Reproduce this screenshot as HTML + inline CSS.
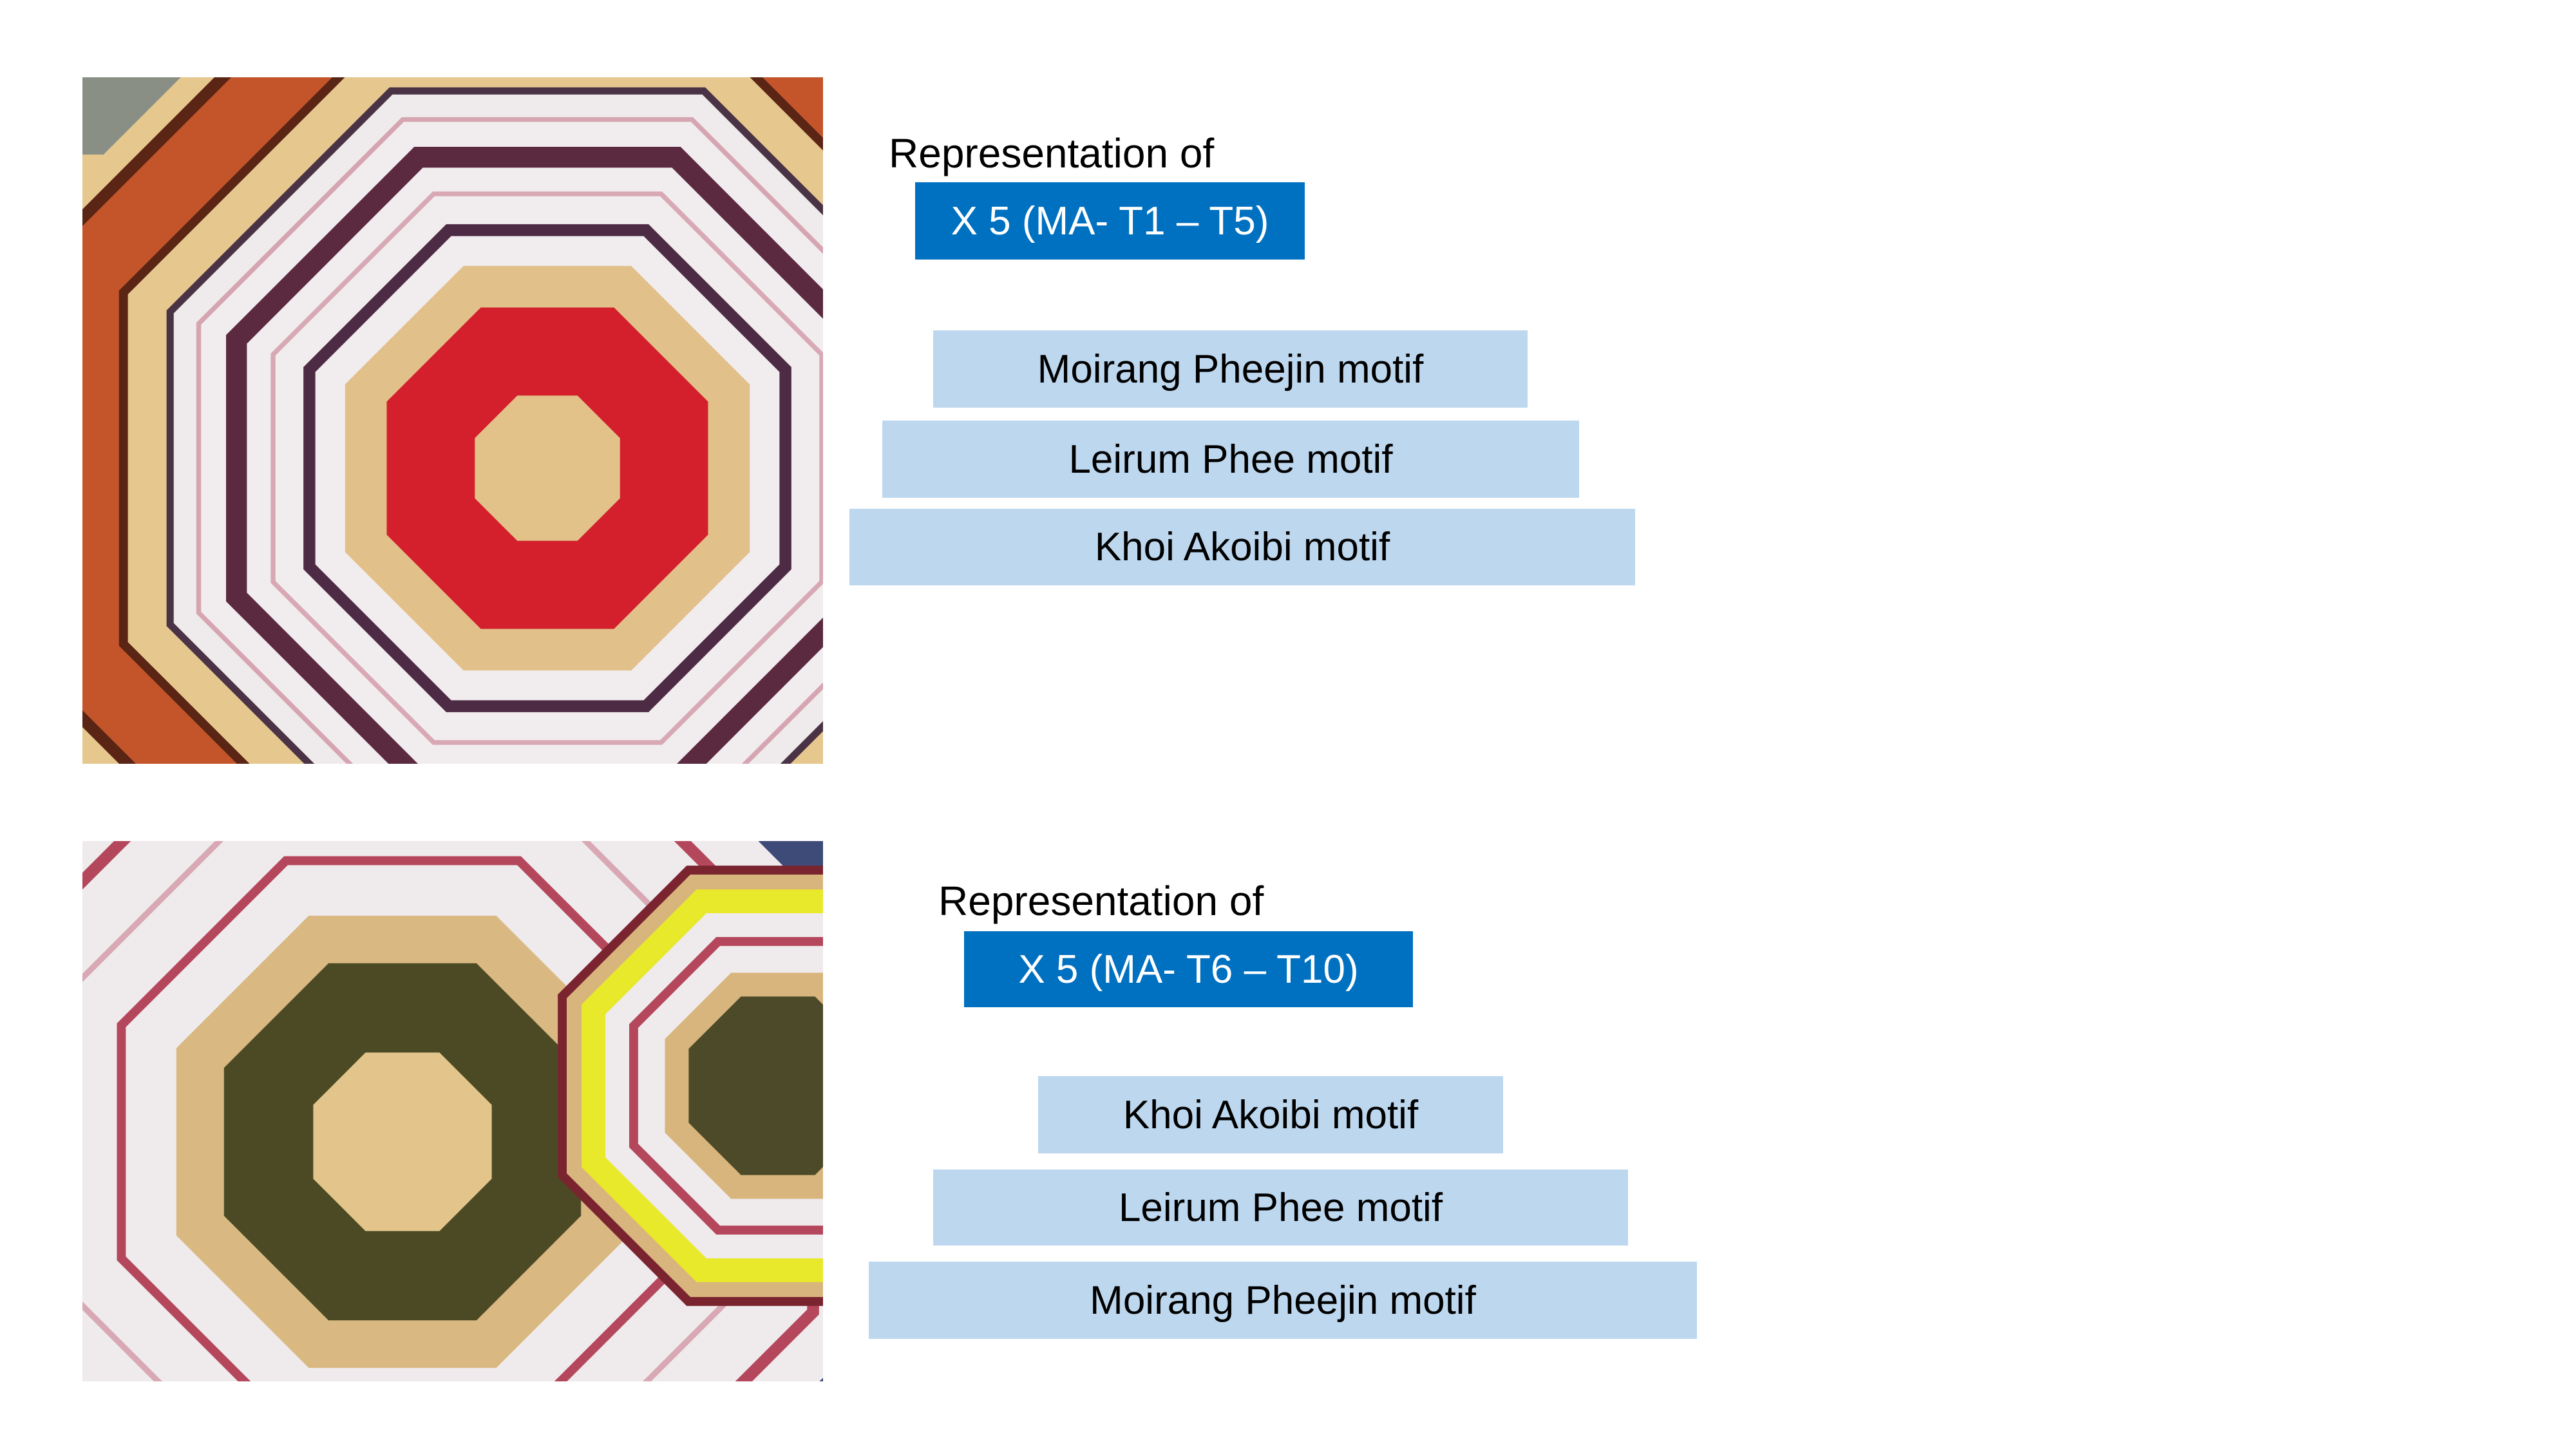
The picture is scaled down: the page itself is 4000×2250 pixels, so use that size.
<!DOCTYPE html>
<html><head><meta charset="utf-8"><style>
html,body{margin:0;padding:0;background:#fff;overflow:hidden;}
html{width:4000px;height:2250px;}
body{width:4000px;height:2250px;position:relative;overflow:hidden;font-family:"Liberation Sans",Carlito,sans-serif;}
.t{position:absolute;font-size:64px;color:#000;white-space:nowrap;line-height:1;}
.b{position:absolute;display:flex;align-items:center;justify-content:center;font-size:62px;white-space:nowrap;}
.d{background:#0070C0;color:#fff;}
.l{background:#BDD7EE;color:#000;}
svg{position:absolute;display:block;}
</style></head><body>
<svg width="0" height="0" style="left:0;top:0"><defs>
<polygon id="o" points="0.924,0.383 0.383,0.924 -0.383,0.924 -0.924,0.383 -0.924,-0.383 -0.383,-0.924 0.383,-0.924 0.924,-0.383"/>
</defs></svg>

<svg style="left:128px;top:120px" width="1150" height="1066" viewBox="0 0 1150 1066">
<rect width="1150" height="1066" fill="#e6c88f"/>
<rect width="250" height="120" fill="#8a8f86"/>
<g transform="translate(722,607)">
<use href="#o" transform="scale(900)" fill="#e6c88f"/>
<use href="#o" transform="scale(860)" fill="#5a2514"/>
<use href="#o" transform="scale(840)" fill="#c4552a"/>
<use href="#o" transform="scale(720)" fill="#5a2514"/>
<use href="#o" transform="scale(705)" fill="#e6c88f"/>
<use href="#o" transform="scale(640)" fill="#4a3345"/>
<use href="#o" transform="scale(628)" fill="#efeaec"/>
<use href="#o" transform="scale(590)" fill="#d6a5b2"/>
<use href="#o" transform="scale(582)" fill="#f1edef"/>
<use href="#o" transform="scale(540)" fill="#5b2a40"/>
<use href="#o" transform="scale(505)" fill="#f1edef"/>
<use href="#o" transform="scale(465)" fill="#d8a8b4"/>
<use href="#o" transform="scale(457)" fill="#f1edef"/>
<use href="#o" transform="scale(410)" fill="#4e2b44"/>
<use href="#o" transform="scale(390)" fill="#f1edef"/>
<use href="#o" transform="scale(340)" fill="#e2c08a"/>
<use href="#o" transform="scale(270)" fill="#d3202c"/>
<use href="#o" transform="scale(122)" fill="#e3c289"/>
</g>
</svg>

<svg style="left:128px;top:1306px" width="1150" height="839" viewBox="0 0 1150 839">
<rect width="1150" height="839" fill="#dcdde0"/>
<g transform="translate(497,467)">
<use href="#o" transform="scale(900)" fill="#d9b981"/>
<use href="#o" transform="scale(860)" fill="#3e4a78"/>
<use href="#o" transform="scale(780)" fill="#efeaec"/>
<use href="#o" transform="scale(700)" fill="#b4475c"/>
<use href="#o" transform="scale(680)" fill="#efeaec"/>
<use href="#o" transform="scale(580)" fill="#d8a8b4"/>
<use href="#o" transform="scale(570)" fill="#efeaec"/>
<use href="#o" transform="scale(480)" fill="#b4475c"/>
<use href="#o" transform="scale(465)" fill="#efeaec"/>
<use href="#o" transform="scale(380)" fill="#d9b981"/>
<use href="#o" transform="scale(300)" fill="#4c4a25"/>
<use href="#o" transform="scale(150)" fill="#e3c58c"/>
</g>
<g transform="translate(1080,380)">
<use href="#o" transform="scale(370)" fill="#7a2430"/>
<use href="#o" transform="scale(355)" fill="#d8b57c"/>
<use href="#o" transform="scale(330)" fill="#e7e92a"/>
<use href="#o" transform="scale(290)" fill="#efeaec"/>
<use href="#o" transform="scale(250)" fill="#b4475c"/>
<use href="#o" transform="scale(235)" fill="#efeaec"/>
<use href="#o" transform="scale(190)" fill="#d8b57c"/>
<use href="#o" transform="scale(150)" fill="#4d4a2a"/>
</g>
</svg>

<div class="t" style="left:1380px;top:206px">Representation of</div>
<div class="b d" style="left:1421px;top:283px;width:605px;height:120px">X 5 (MA- T1 – T5)</div>
<div class="b l" style="left:1449px;top:513px;width:923px;height:120px">Moirang Pheejin motif</div>
<div class="b l" style="left:1370px;top:653px;width:1082px;height:120px">Leirum Phee motif</div>
<div class="b l" style="left:1319px;top:790px;width:1220px;height:119px">Khoi Akoibi motif</div>

<div class="t" style="left:1457px;top:1367px">Representation of</div>
<div class="b d" style="left:1497px;top:1446px;width:697px;height:118px">X 5 (MA- T6 – T10)</div>
<div class="b l" style="left:1612px;top:1671px;width:722px;height:120px">Khoi Akoibi motif</div>
<div class="b l" style="left:1449px;top:1816px;width:1079px;height:118px">Leirum Phee motif</div>
<div class="b l" style="left:1349px;top:1959px;width:1286px;height:120px">Moirang Pheejin motif</div>
</body></html>
